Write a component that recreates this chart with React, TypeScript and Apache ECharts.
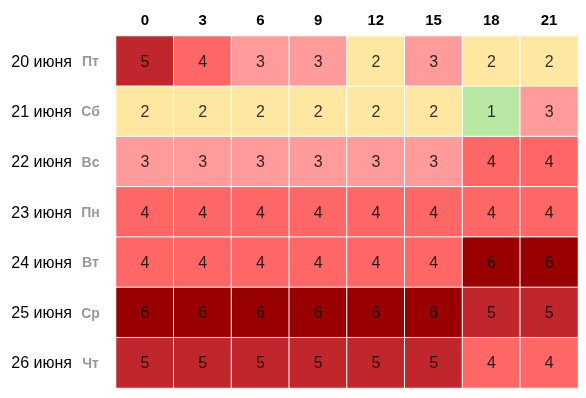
import React, { useEffect, useRef } from "react";
import * as echarts from "echarts";

const hours = ["0", "3", "6", "9", "12", "15", "18", "21"];
const dates = ["20 июня", "21 июня", "22 июня", "23 июня", "24 июня", "25 июня", "26 июня"];
const weekdays = ["Пт", "Сб", "Вс", "Пн", "Вт", "Ср", "Чт"];
const row20 = [5, 4, 3, 3, 2, 3, 2, 2];
const row21 = [2, 2, 2, 2, 2, 2, 1, 3];
const row22 = [3, 3, 3, 3, 3, 3, 4, 4];
const row23 = [4, 4, 4, 4, 4, 4, 4, 4];
const row24 = [4, 4, 4, 4, 4, 4, 6, 6];
const row25 = [6, 6, 6, 6, 6, 6, 5, 5];
const row26 = [5, 5, 5, 5, 5, 5, 4, 4];
const rows = [row20, row21, row22, row23, row24, row25, row26];
const levelColors = ["#b9e8a4", "#fee8a1", "#ff9b9b", "#ff6666", "#c0272d", "#990000"];

export default function App() {
  const ref = useRef<HTMLDivElement>(null);
  useEffect(() => {
    if (!ref.current) return;
    const chart = echarts.init(ref.current, null, { renderer: "svg" });
    const data: number[][] = [];
    rows.forEach((r, yi) => r.forEach((v, xi) => data.push([xi, yi, v])));
    const yCats = dates.map((d, i) => d + "|" + weekdays[i]);
    chart.setOption({
      animation: false,
      textStyle: { fontFamily: "Arial, 'Liberation Sans', sans-serif" },
      grid: { left: 116, right: 8, top: 36, bottom: 10 },
      xAxis: {
        type: "category",
        position: "top",
        data: hours,
        axisLine: { show: false },
        axisTick: { show: false },
        splitLine: { show: false },
        axisLabel: { fontWeight: "bold", fontSize: 15, color: "#000", margin: 9 },
      },
      yAxis: {
        type: "category",
        inverse: true,
        data: yCats,
        axisLine: { show: false },
        axisTick: { show: false },
        axisLabel: {
          margin: 16,
          formatter: (v: string) => {
            const [d, w] = v.split("|");
            return "{d|" + d + "}{w|" + w + "}";
          },
          rich: {
            d: { fontSize: 16, color: "#000", padding: [0, 9, 0, 0] },
            w: { fontSize: 14, fontWeight: "bold", color: "#999", width: 19, align: "left" },
          },
        },
      },
      visualMap: {
        show: false,
        type: "piecewise",
        dimension: 2,
        pieces: levelColors.map((c, i) => ({ value: i + 1, color: c })),
      },
      series: [
        {
          type: "heatmap",
          data,
          label: { show: true, fontSize: 16, color: "rgba(0,0,0,0.8)" },
          itemStyle: { borderColor: "#fff", borderWidth: 1 },
          emphasis: { disabled: true },
        },
      ],
    });
    return () => chart.dispose();
  }, []);
  return <div ref={ref} style={{ position: "fixed", left: 0, top: 0, width: 586, height: 398 }} />;
}
